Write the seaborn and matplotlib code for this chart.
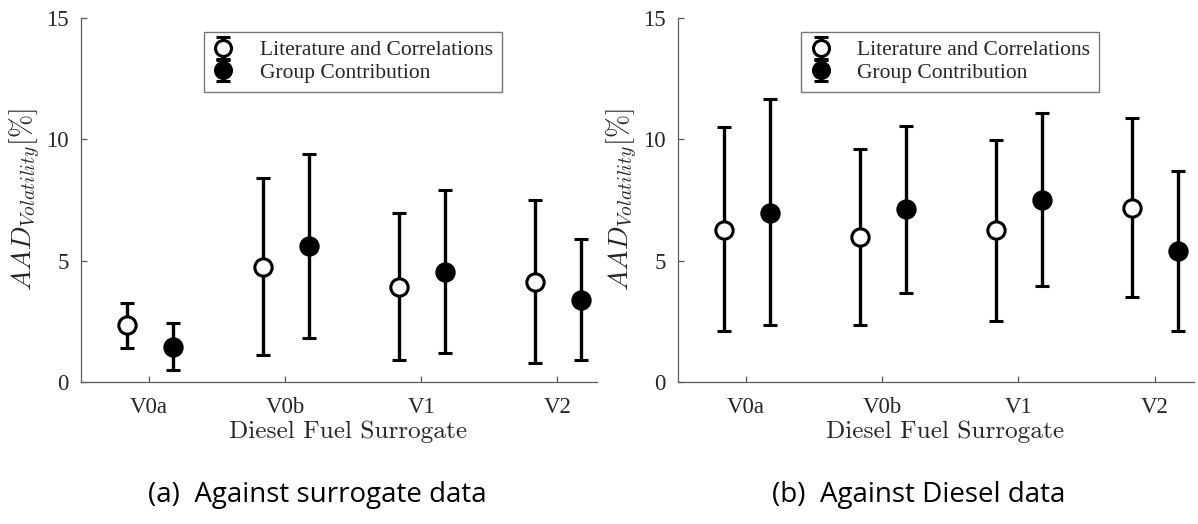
import matplotlib
matplotlib.use("Agg")
import matplotlib.pyplot as plt
import seaborn as sns
import numpy as np
import pandas as pd

categories = ["V0a", "V0b", "V1", "V2"]
series_names = ["Literature and Correlations", "Group Contribution"]

# Panel (a): against surrogate data
a_lit_mean = [2.35, 4.74, 3.90, 4.13]
a_lit_low = [1.42, 1.12, 0.89, 0.78]
a_lit_high = [3.24, 8.40, 6.97, 7.48]
a_gc_mean = [1.46, 5.61, 4.51, 3.38]
a_gc_low = [0.51, 1.80, 1.19, 0.89]
a_gc_high = [2.42, 9.39, 7.89, 5.88]

# Panel (b): against Diesel data
b_lit_mean = [6.28, 5.98, 6.25, 7.17]
b_lit_low = [2.08, 2.35, 2.53, 3.49]
b_lit_high = [10.49, 9.59, 9.97, 10.86]
b_gc_mean = [6.97, 7.11, 7.51, 5.40]
b_gc_low = [2.35, 3.65, 3.95, 2.11]
b_gc_high = [11.64, 10.56, 11.06, 8.68]

captions = ["(a)  Against surrogate data", "(b)  Against Diesel data"]
yticks = [0, 5, 10, 15]

sns.set_theme(style="white")
plt.rcParams["font.family"] = ["Liberation Serif", "DejaVu Serif"]
plt.rcParams["mathtext.fontset"] = "cm"
plt.rcParams["axes.unicode_minus"] = False

fig = plt.figure(figsize=(11.98, 5.24), dpi=100)
ax_w = 0.4307
axes = [fig.add_axes([0.0676, 0.271, ax_w, 0.695]),
        fig.add_axes([0.566, 0.271, ax_w, 0.695])]

panels = [
    (a_lit_mean, a_lit_low, a_lit_high, a_gc_mean, a_gc_low, a_gc_high),
    (b_lit_mean, b_lit_low, b_lit_high, b_gc_mean, b_gc_low, b_gc_high),
]
offsets = [-0.165, 0.175]
faces = ["white", "black"]
axis_col = "#5a5a5a"
text_col = "#262626"

for ax, pdata, cap in zip(axes, panels, captions):
    groups = [(pdata[0], pdata[1], pdata[2]), (pdata[3], pdata[4], pdata[5])]
    handles = []
    for (mean, low, high), off, fc, name in zip(groups, offsets, faces, series_names):
        mean = np.array(mean)
        pos = np.arange(1, len(categories) + 1) + off
        yerr = np.vstack([mean - np.array(low), np.array(high) - mean])
        h = ax.errorbar(pos, mean, yerr=yerr, fmt="o", color="black",
                        mfc=fc, mec="black", ms=11.5, mew=2.2,
                        elinewidth=2.4, capsize=4.8, capthick=2.4,
                        zorder=2, label=name)
        handles.append(h)
        df = pd.DataFrame({"x": pos, "y": mean})
        sns.scatterplot(data=df, x="x", y="y", ax=ax, s=155, color=fc,
                        edgecolor="black", linewidth=2.2, zorder=3, legend=False)
    ax.set_xlim(0.5, 4.29)
    ax.set_ylim(0, 15)
    ax.set_xticks(range(1, len(categories) + 1))
    ax.set_xticklabels(categories)
    ax.set_yticks(yticks)
    ax.set_xlabel("Diesel Fuel Surrogate", fontsize=18.2, color=text_col, labelpad=3,
                  family=["cmr10", "DejaVu Serif"])
    ax.xaxis.set_label_coords(0.517, -0.105)
    ax.xaxis.label.set_va("top")
    ax.set_ylabel(r"$AAD_{Volatility}[\%]$", fontsize=20, color=text_col, labelpad=2)
    for s in ["top", "right"]:
        ax.spines[s].set_visible(False)
    for s in ["left", "bottom"]:
        ax.spines[s].set_color(axis_col)
        ax.spines[s].set_linewidth(0.9)
    ax.tick_params(axis="both", direction="in", length=4, width=0.9, color=axis_col,
                   labelsize=16.5, labelcolor=text_col, left=True, bottom=True)
    ax.tick_params(axis="x", pad=11)
    ax.tick_params(axis="y", pad=9)
    leg = ax.legend(handles=handles, loc="upper center", bbox_to_anchor=(0.527, 0.962),
                    fontsize=15.5, frameon=True, fancybox=False, handlelength=1.0,
                    handletextpad=1.2, borderpad=0.4, labelspacing=0.12,
                    borderaxespad=0)
    leg.get_frame().set_edgecolor("#555555")
    leg.get_frame().set_linewidth(1.0)
    for t in leg.get_texts():
        t.set_color(text_col)

fig.text(0.265, 0.055, captions[0], ha="center", va="center", fontsize=20,
         family=["Open Sans", "DejaVu Sans"], color="black")
fig.text(0.767, 0.055, captions[1], ha="center", va="center", fontsize=20,
         family=["Open Sans", "DejaVu Sans"], color="black")

fig.savefig("out.png", dpi=100)
